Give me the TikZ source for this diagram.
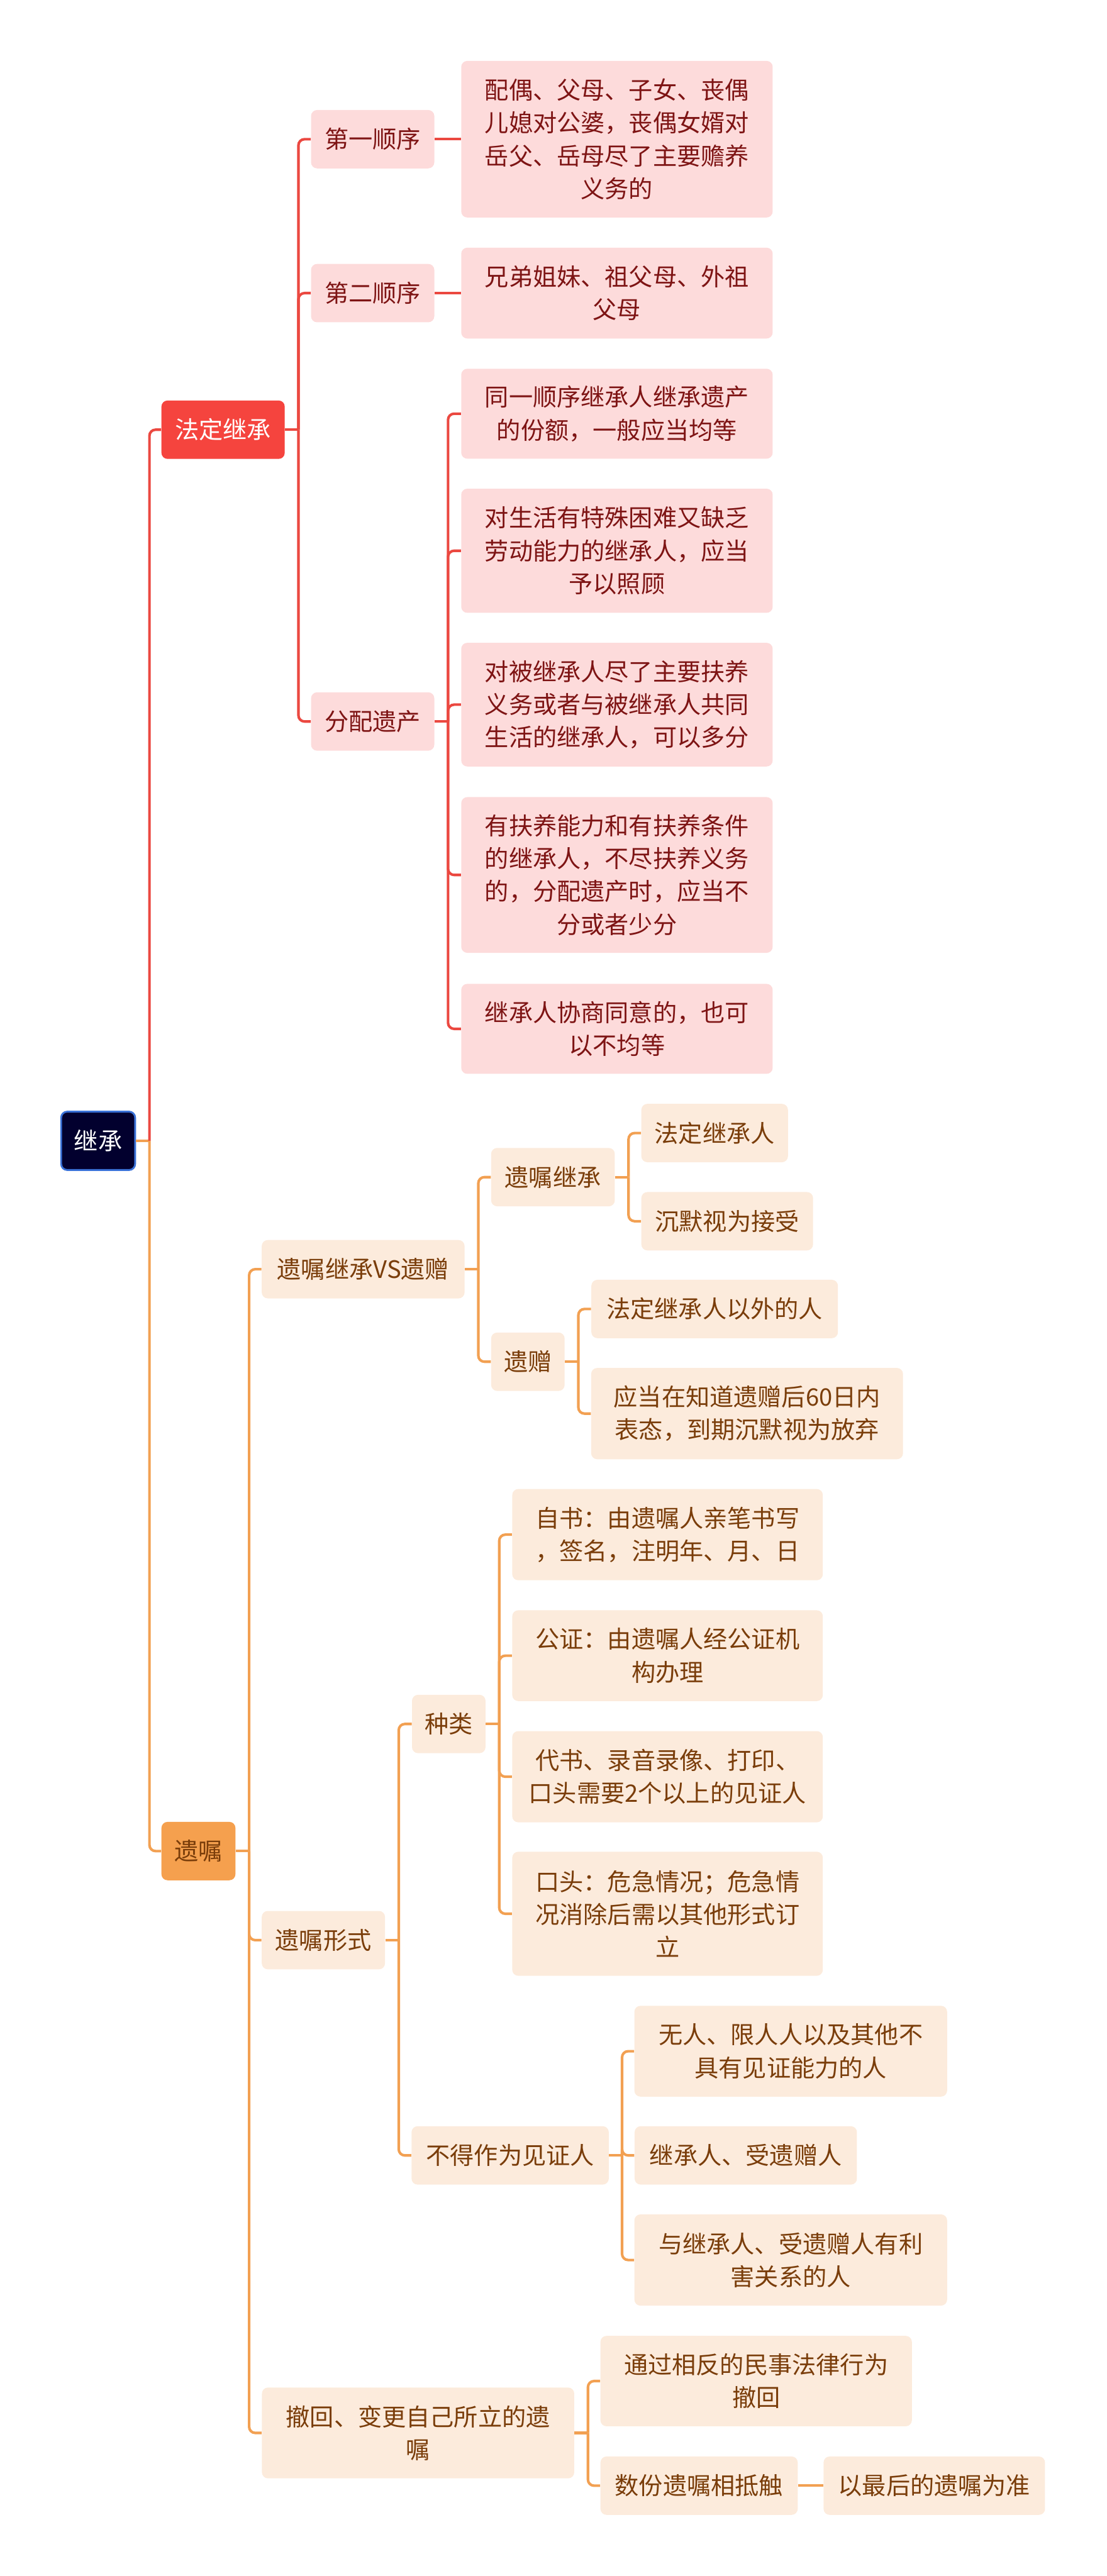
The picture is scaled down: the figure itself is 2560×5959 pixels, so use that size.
\documentclass[tikz,border=0pt]{standalone}
\usepackage{fontspec}
\setmainfont{Noto Sans CJK SC}
\usetikzlibrary{positioning}

\definecolor{rootnavy}{HTML}{02002E}
\definecolor{rootblue}{HTML}{3A72D8}
\definecolor{lawred}{HTML}{F5443E}
\definecolor{lawpink}{HTML}{FDDBDB}
\definecolor{lawtext}{HTML}{7E1414}
\definecolor{lawline}{HTML}{EB4840}
\definecolor{willorange}{HTML}{F5A04E}
\definecolor{willcream}{HTML}{FCEBDC}
\definecolor{willtext}{HTML}{7A3D0A}
\definecolor{willline}{HTML}{F2A052}

\newcommand\mapfont{\fontsize{15.8pt}{21.6pt}\selectfont}

\begin{document}
\begin{tikzpicture}[
    x=0.01cm,y=-0.01cm,
    box/.style={rounded corners=4pt,inner sep=0pt,align=center,font=\mapfont,
                minimum height=1.35cm},
    root/.style={box,draw=rootblue,line width=1.2pt,fill=rootnavy,text=white,
                 minimum width=1.71cm},
    lawmain/.style={box,fill=lawred,text=white,minimum width=2.85cm},
    lawsub/.style={box,fill=lawpink,text=lawtext},
    willmain/.style={box,fill=willorange,text=willtext,minimum width=1.71cm},
    willsub/.style={box,fill=willcream,text=willtext},
    lawlink/.style={draw=lawline,line width=1.7pt,rounded corners=4pt},
    willlink/.style={draw=willline,line width=1.7pt,rounded corners=4pt}
]
\useasboundingbox (0,0) rectangle (2560,5959);

% root
\node[root] (jicheng) at (227,2639) {继承};

% statutory succession
\node[lawmain] (fading) at (516,994) {法定继承};
\node[lawsub,minimum width=2.85cm] (order1) at (862,322) {第一顺序};
\node[lawsub,minimum width=7.2cm,minimum height=3.62cm] (order1txt) at (1427,322)
    {配偶、父母、子女、丧偶\\儿媳对公婆，丧偶女婿对\\岳父、岳母尽了主要赡养\\义务的};
\node[lawsub,minimum width=2.85cm] (order2) at (862,678) {第二顺序};
\node[lawsub,minimum width=7.2cm,minimum height=2.1cm] (order2txt) at (1427,678)
    {兄弟姐妹、祖父母、外祖\\父母};
\node[lawsub,minimum width=2.85cm] (share) at (862,1669) {分配遗产};
\node[lawsub,minimum width=7.2cm,minimum height=2.08cm] (shareA) at (1427,957)
    {同一顺序继承人继承遗产\\的份额，一般应当均等};
\node[lawsub,minimum width=7.2cm,minimum height=2.87cm] (shareB) at (1427,1274)
    {对生活有特殊困难又缺乏\\劳动能力的继承人，应当\\予以照顾};
\node[lawsub,minimum width=7.2cm,minimum height=2.86cm] (shareC) at (1427,1630)
    {对被继承人尽了主要扶养\\义务或者与被继承人共同\\生活的继承人，可以多分};
\node[lawsub,minimum width=7.2cm,minimum height=3.6cm] (shareD) at (1427,2024)
    {有扶养能力和有扶养条件\\的继承人，不尽扶养义务\\的，分配遗产时，应当不\\分或者少分};
\node[lawsub,minimum width=7.2cm,minimum height=2.08cm] (shareE) at (1427,2380)
    {继承人协商同意的，也可\\以不均等};

% testamentary
\node[willmain] (yizhu) at (459,4282) {遗嘱};
\node[willsub,minimum width=4.69cm] (vs) at (840,2936) {遗嘱继承VS遗赠};
\node[willsub,minimum width=2.86cm] (yzjc) at (1279,2723) {遗嘱继承};
\node[willsub,minimum width=3.39cm] (fdjcr) at (1653,2621) {法定继承人};
\node[willsub,minimum width=3.97cm] (silence) at (1682,2825) {沉默视为接受};
\node[willsub,minimum width=1.7cm] (yizeng) at (1221,3150) {遗赠};
\node[willsub,minimum width=5.7cm] (outside) at (1653,3028) {法定继承人以外的人};
\node[willsub,minimum width=7.21cm,minimum height=2.11cm] (sixty) at (1728,3270)
    {应当在知道遗赠后60日内\\表态，到期沉默视为放弃};
\node[willsub,minimum width=2.85cm] (form) at (748,4488) {遗嘱形式};
\node[willsub,minimum width=1.7cm] (kinds) at (1038,3988) {种类};
\node[willsub,minimum width=7.18cm,minimum height=2.11cm] (zishu) at (1544,3550)
    {自书：由遗嘱人亲笔书写\\，签名，注明年、月、日};
\node[willsub,minimum width=7.18cm,minimum height=2.1cm] (gongzheng) at (1544,3830)
    {公证：由遗嘱人经公证机\\构办理};
\node[willsub,minimum width=7.18cm,minimum height=2.11cm] (daishu) at (1544,4110)
    {代书、录音录像、打印、\\口头需要2个以上的见证人};
\node[willsub,minimum width=7.18cm,minimum height=2.87cm] (koutou) at (1544,4427)
    {口头：危急情况；危急情\\况消除后需以其他形式订\\立};
\node[willsub,minimum width=4.56cm] (nowitness) at (1180,4986) {不得作为见证人};
\node[willsub,minimum width=7.23cm,minimum height=2.1cm] (incapable) at (1829,4745)
    {无人、限人人以及其他不\\具有见证能力的人};
\node[willsub,minimum width=5.14cm] (heirs) at (1725,4986) {继承人、受遗赠人};
\node[willsub,minimum width=7.23cm,minimum height=2.11cm] (interest) at (1829,5228)
    {与继承人、受遗赠人有利\\害关系的人};
\node[willsub,minimum width=7.22cm,minimum height=2.1cm] (revoke) at (967,5628)
    {撤回、变更自己所立的遗\\嘱};
\node[willsub,minimum width=7.2cm,minimum height=2.09cm] (contrary) at (1749,5508)
    {通过相反的民事法律行为\\撤回};
\node[willsub,minimum width=4.56cm] (conflict) at (1617,5750) {数份遗嘱相抵触};
\node[willsub,minimum width=5.12cm] (latest) at (2161,5750) {以最后的遗嘱为准};

% connectors: root
\draw[willlink] (jicheng.east) -- ++(31,0) coordinate (root-j);
\draw[lawlink] (root-j) |- (fading.west);
\draw[willlink] (root-j) |- (yizhu.west);

% connectors: statutory
\draw[lawlink] (fading.east) -- ++(31,0) coordinate (fading-j);
\draw[lawlink] (fading-j) |- (order1.west);
\draw[lawlink] (fading-j) |- (order2.west);
\draw[lawlink] (fading-j) |- (share.west);
\draw[lawlink] (order1.east) -- (order1txt.west);
\draw[lawlink] (order2.east) -- (order2txt.west);
\draw[lawlink] (share.east) -- ++(31,0) coordinate (share-j);
\draw[lawlink] (share-j) |- (shareA.west);
\draw[lawlink] (share-j) |- (shareB.west);
\draw[lawlink] (share-j) |- (shareC.west);
\draw[lawlink] (share-j) |- (shareD.west);
\draw[lawlink] (share-j) |- (shareE.west);

% connectors: testamentary
\draw[willlink] (yizhu.east) -- ++(31,0) coordinate (yizhu-j);
\draw[willlink] (yizhu-j) |- (vs.west);
\draw[willlink] (yizhu-j) |- (form.west);
\draw[willlink] (yizhu-j) |- (revoke.west);
\draw[willlink] (vs.east) -- ++(31,0) coordinate (vs-j);
\draw[willlink] (vs-j) |- (yzjc.west);
\draw[willlink] (vs-j) |- (yizeng.west);
\draw[willlink] (yzjc.east) -- ++(31,0) coordinate (yzjc-j);
\draw[willlink] (yzjc-j) |- (fdjcr.west);
\draw[willlink] (yzjc-j) |- (silence.west);
\draw[willlink] (yizeng.east) -- ++(31,0) coordinate (yizeng-j);
\draw[willlink] (yizeng-j) |- (outside.west);
\draw[willlink] (yizeng-j) |- (sixty.west);
\draw[willlink] (form.east) -- ++(31,0) coordinate (form-j);
\draw[willlink] (form-j) |- (kinds.west);
\draw[willlink] (form-j) |- (nowitness.west);
\draw[willlink] (kinds.east) -- ++(31,0) coordinate (kinds-j);
\draw[willlink] (kinds-j) |- (zishu.west);
\draw[willlink] (kinds-j) |- (gongzheng.west);
\draw[willlink] (kinds-j) |- (daishu.west);
\draw[willlink] (kinds-j) |- (koutou.west);
\draw[willlink] (nowitness.east) -- ++(30,0) coordinate (nowitness-j);
\draw[willlink] (nowitness-j) |- (incapable.west);
\draw[willlink] (nowitness-j) |- (heirs.west);
\draw[willlink] (nowitness-j) |- (interest.west);
\draw[willlink] (revoke.east) -- ++(31,0) coordinate (revoke-j);
\draw[willlink] (revoke-j) |- (contrary.west);
\draw[willlink] (revoke-j) |- (conflict.west);
\draw[willlink] (conflict.east) -- (latest.west);
\end{tikzpicture}
\end{document}
